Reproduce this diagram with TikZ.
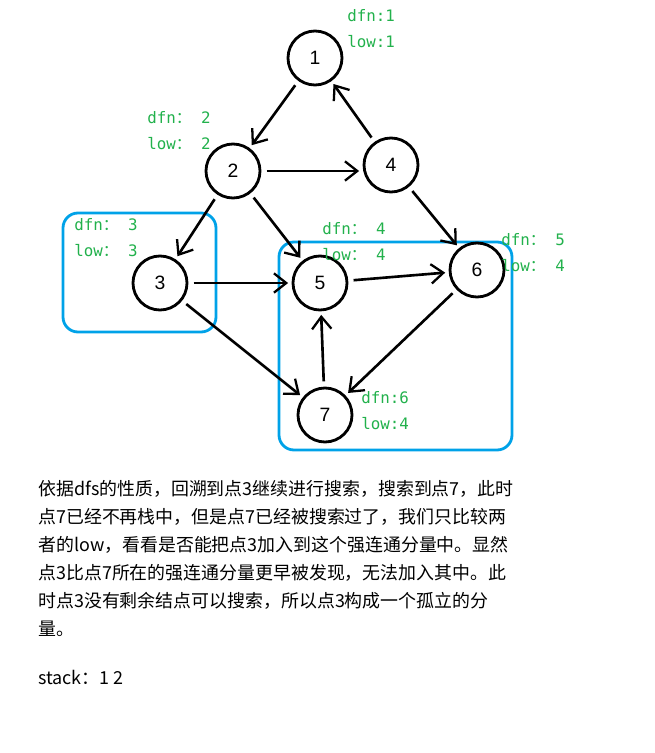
\documentclass[tikz,border=0pt]{standalone}
\usepackage{fontspec}
\setmainfont{Noto Sans CJK SC}
\newfontfamily\numfont{Liberation Sans}
\newfontfamily\lblfont{DejaVu Sans Mono}
\newfontfamily\cjk{Noto Sans CJK SC}
\usetikzlibrary{arrows.meta}
\definecolor{lblgreen}{RGB}{34,177,76}
\definecolor{sccblue}{RGB}{0,162,232}
\newcommand{\fcolon}{{\cjk ：}}
\tikzset{
	vertex/.style={draw,circle,line width=1.6pt,minimum size=1.08cm,inner sep=0pt,font=\numfont\fontsize{11}{13}\selectfont},
	edge/.style={line width=1.5pt,-{Straight Barb[length=7pt,width=11pt,line width=1.3pt]},shorten <=3pt,shorten >=2pt},
	lbl/.style={anchor=west,align=left,inner sep=0pt,text=lblgreen,font=\lblfont\fontsize{9}{14.7}\selectfont},
	scc/.style={draw=sccblue,line width=1.6pt,rounded corners=0.3cm}
}
\begin{document}
\begin{tikzpicture}[x=0.02cm,y=-0.02cm]
	\useasboundingbox (0,0) rectangle (655,753);
	% strongly connected components
	\draw[scc] (63,213) rectangle (216,332);
	\draw[scc] (279,242) rectangle (512,450);
	% vertices
	\node[vertex] (v1) at (315,58) {1};
	\node[vertex] (v2) at (233,171) {2};
	\node[vertex] (v4) at (391,165) {4};
	\node[vertex] (v3) at (160,283) {3};
	\node[vertex] (v5) at (320,283) {5};
	\node[vertex] (v6) at (477,270) {6};
	\node[vertex] (v7) at (325,415) {7};
	% edges
	\draw[edge] (v1) -- (v2);
	\draw[edge] (v4) -- (v1);
	\draw[edge] (v2) -- (v4.west |- v2);
	\draw[edge] (v2) -- (v3);
	\draw[edge] (v2) -- (v5);
	\draw[edge] (v4) -- (v6);
	\draw[edge] (v3) -- (v5);
	\draw[edge] (v3) -- (v7);
	\draw[edge] (v5) -- (v6);
	\draw[edge] (v6) -- (v7);
	\draw[edge] (v7) -- (v5);
	% dfn / low
	\node[lbl] (l1) at (347,29) {dfn:1\\low:1};
	\node[lbl] (l2) at (147,131) {dfn\fcolon{} 2\\low\fcolon{} 2};
	\node[lbl] (l3) at (74,238) {dfn\fcolon{} 3\\low\fcolon{} 3};
	\node[lbl] (l4) at (322,242) {dfn\fcolon{} 4\\low\fcolon{} 4};
	\node[lbl] (l5) at (501,253) {dfn\fcolon{} 5\\low\fcolon{} 4};
	\node[lbl] (l6) at (361,411) {dfn:6\\low:4};
	% explanation
	\node[anchor=north west,align=left,inner sep=0pt,font=\fontsize{10.2}{15.9}\selectfont] (txt) at (38,480)
		{依据dfs的性质，回溯到点3继续进行搜索，搜索到点7，此时\\
		点7已经不再栈中，但是点7已经被搜索过了，我们只比较两\\
		者的low，看看是否能把点3加入到这个强连通分量中。显然\\
		点3比点7所在的强连通分量更早被发现，无法加入其中。此\\
		时点3没有剩余结点可以搜索，所以点3构成一个孤立的分\\
		量。};
	\node[anchor=west,inner sep=0pt,font=\fontsize{10.2}{15.9}\selectfont] (stk) at (38,677) {stack：1 2};
\end{tikzpicture}
\end{document}
